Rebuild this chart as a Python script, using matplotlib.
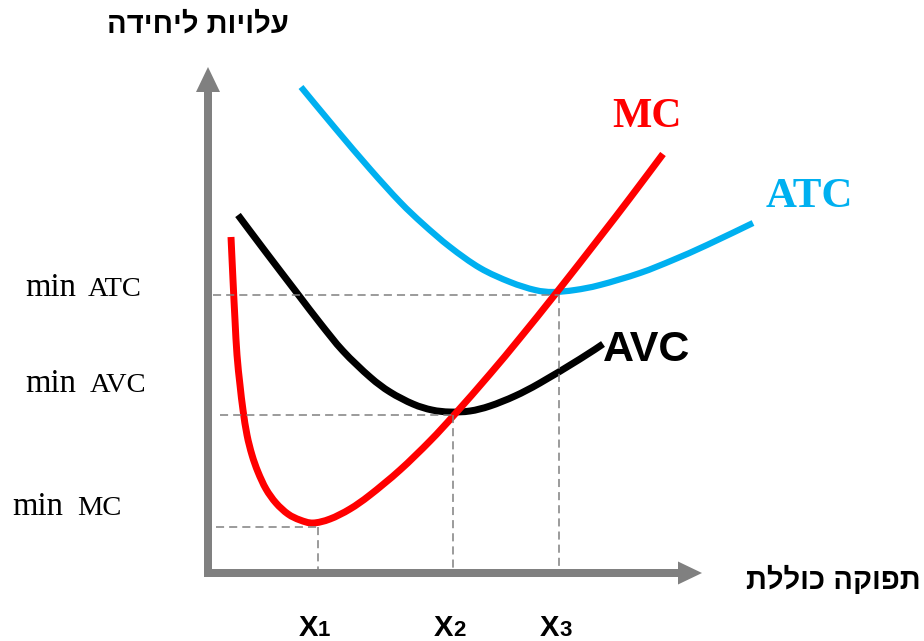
import matplotlib
matplotlib.use("Agg")
import matplotlib.pyplot as plt
from matplotlib.path import Path
from matplotlib.patches import PathPatch

# cost curves (quantity, cost per unit)
mc_q = [23, 25, 27, 29, 32, 35, 39, 44, 50, 58, 68, 80, 92, 105, 122, 142, 162,
        192, 222, 247, 282, 312, 349, 392, 422, 455]
mc_c = [336, 293, 253, 218, 188, 163, 138, 118, 101, 84, 70, 59, 53, 50, 54, 64, 78,
        103, 132, 159, 199, 235, 281, 336, 375, 419]

atc_q = [93, 127, 162, 192, 215, 242, 272, 302, 327, 345, 367, 392, 432, 465, 499, 545]
atc_c = [486, 445, 404, 371, 349, 326, 305, 291, 283, 281, 283, 288, 300, 313, 328, 350]

avc_q = [30, 57, 89, 112, 135, 162, 182, 205, 224, 242, 262, 282, 307, 332, 372, 395]
avc_c = [358, 322, 280, 250, 222, 196, 181, 169, 163, 161, 162, 167, 177, 190, 214, 229]

# minimum points: MC, AVC, ATC
min_labels = ["MC", "AVC", "ATC"]
min_q = [110, 245, 351]
min_c = [46, 158, 278]
dash_from = [8, 12, 5]
label_base = [58, 181, 277]
x_labels = ["1", "2", "3"]

y_title = "עלויות ליחידה"
x_title = "תפוקה כוללת"

GRAY = "#808080"
RED = "#FF0000"
BLUE = "#00B0F0"
SANS = ["Liberation Sans", "DejaVu Sans"]
SERIF = ["Liberation Serif", "DejaVu Serif"]


def rtl(s):
    # matplotlib has no bidi support, so feed hebrew in visual order
    return s[::-1]


def smooth_curve(ax, xs, ys, **kw):
    # catmull-rom through the read points, drawn as cubic bezier segments
    pts = list(zip(xs, ys))
    verts = [pts[0]]
    codes = [Path.MOVETO]
    for i in range(len(pts) - 1):
        p0 = pts[max(i - 1, 0)]
        p1 = pts[i]
        p2 = pts[i + 1]
        p3 = pts[min(i + 2, len(pts) - 1)]
        c1 = (p1[0] + (p2[0] - p0[0]) / 6, p1[1] + (p2[1] - p0[1]) / 6)
        c2 = (p2[0] - (p3[0] - p1[0]) / 6, p2[1] - (p3[1] - p1[1]) / 6)
        verts += [c1, c2, p2]
        codes += [Path.CURVE4] * 3
    patch = PathPatch(Path(verts, codes), fill=False, capstyle="butt",
                      joinstyle="round", **kw)
    ax.add_patch(patch)


fig = plt.figure(figsize=(9.24, 6.41), dpi=100)
ax = fig.add_axes([0, 0, 1, 1])
ax.set_xlim(-208, 716)
ax.set_ylim(-68, 573)
ax.axis("off")

# axes with arrow heads
ax.arrow(0, -4, 0, 510, width=8, head_width=24, head_length=25,
         length_includes_head=True, color=GRAY, lw=0)
ax.arrow(-4, 0, 498, 0, width=8, head_width=23, head_length=24,
         length_includes_head=True, color=GRAY, lw=0)

# guide lines to the minimum points
for q, c, x0 in zip(min_q, min_c, dash_from):
    ax.plot([x0, q], [c, c], color=GRAY, lw=1.1, dashes=(5.3, 3.3))
    ax.plot([q, q], [c, 3], color=GRAY, lw=1.1, dashes=(5.3, 3.3))

smooth_curve(ax, atc_q, atc_c, edgecolor=BLUE, lw=4.5)
smooth_curve(ax, avc_q, avc_c, edgecolor="black", lw=5)
smooth_curve(ax, mc_q, mc_c, edgecolor=RED, lw=5)

# curve names
ax.text(439, 456, "MC", color=RED, fontsize=30, fontweight="bold", family=SERIF,
        ha="center", va="center")
ax.text(601, 376, "ATC", color=BLUE, fontsize=31, fontweight="bold", family=SERIF,
        ha="center", va="center")
ax.text(395, 223, "AVC", color="black", fontsize=31, fontweight="bold", family=SANS,
        ha="left", va="center")

# min labels on the cost axis
min_x = [-196, -183, -183]
name_x = [-131, -118, -120]
for lab, b, mx, nx in zip(min_labels, label_base, min_x, name_x):
    ax.text(mx, b, "min", fontsize=23.5, family=SERIF, ha="left", va="baseline")
    ax.text(nx, b, lab, fontsize=20.5, family=SERIF, ha="left", va="baseline")

# quantity labels
for q, d in zip(min_q, x_labels):
    ax.text(q, -63, "X", fontsize=21, fontweight="bold", family=SANS, ha="right", va="baseline")
    ax.text(q, -63, d, fontsize=16, fontweight="bold", family=SANS, ha="left", va="baseline")

ax.text(-10, 548, rtl(y_title), fontsize=21, fontweight="bold", family=SANS,
        ha="center", va="center")
ax.text(625, -7, rtl(x_title), fontsize=21, fontweight="bold", family=SANS,
        ha="center", va="center")

fig.savefig("out.png", dpi=100)
